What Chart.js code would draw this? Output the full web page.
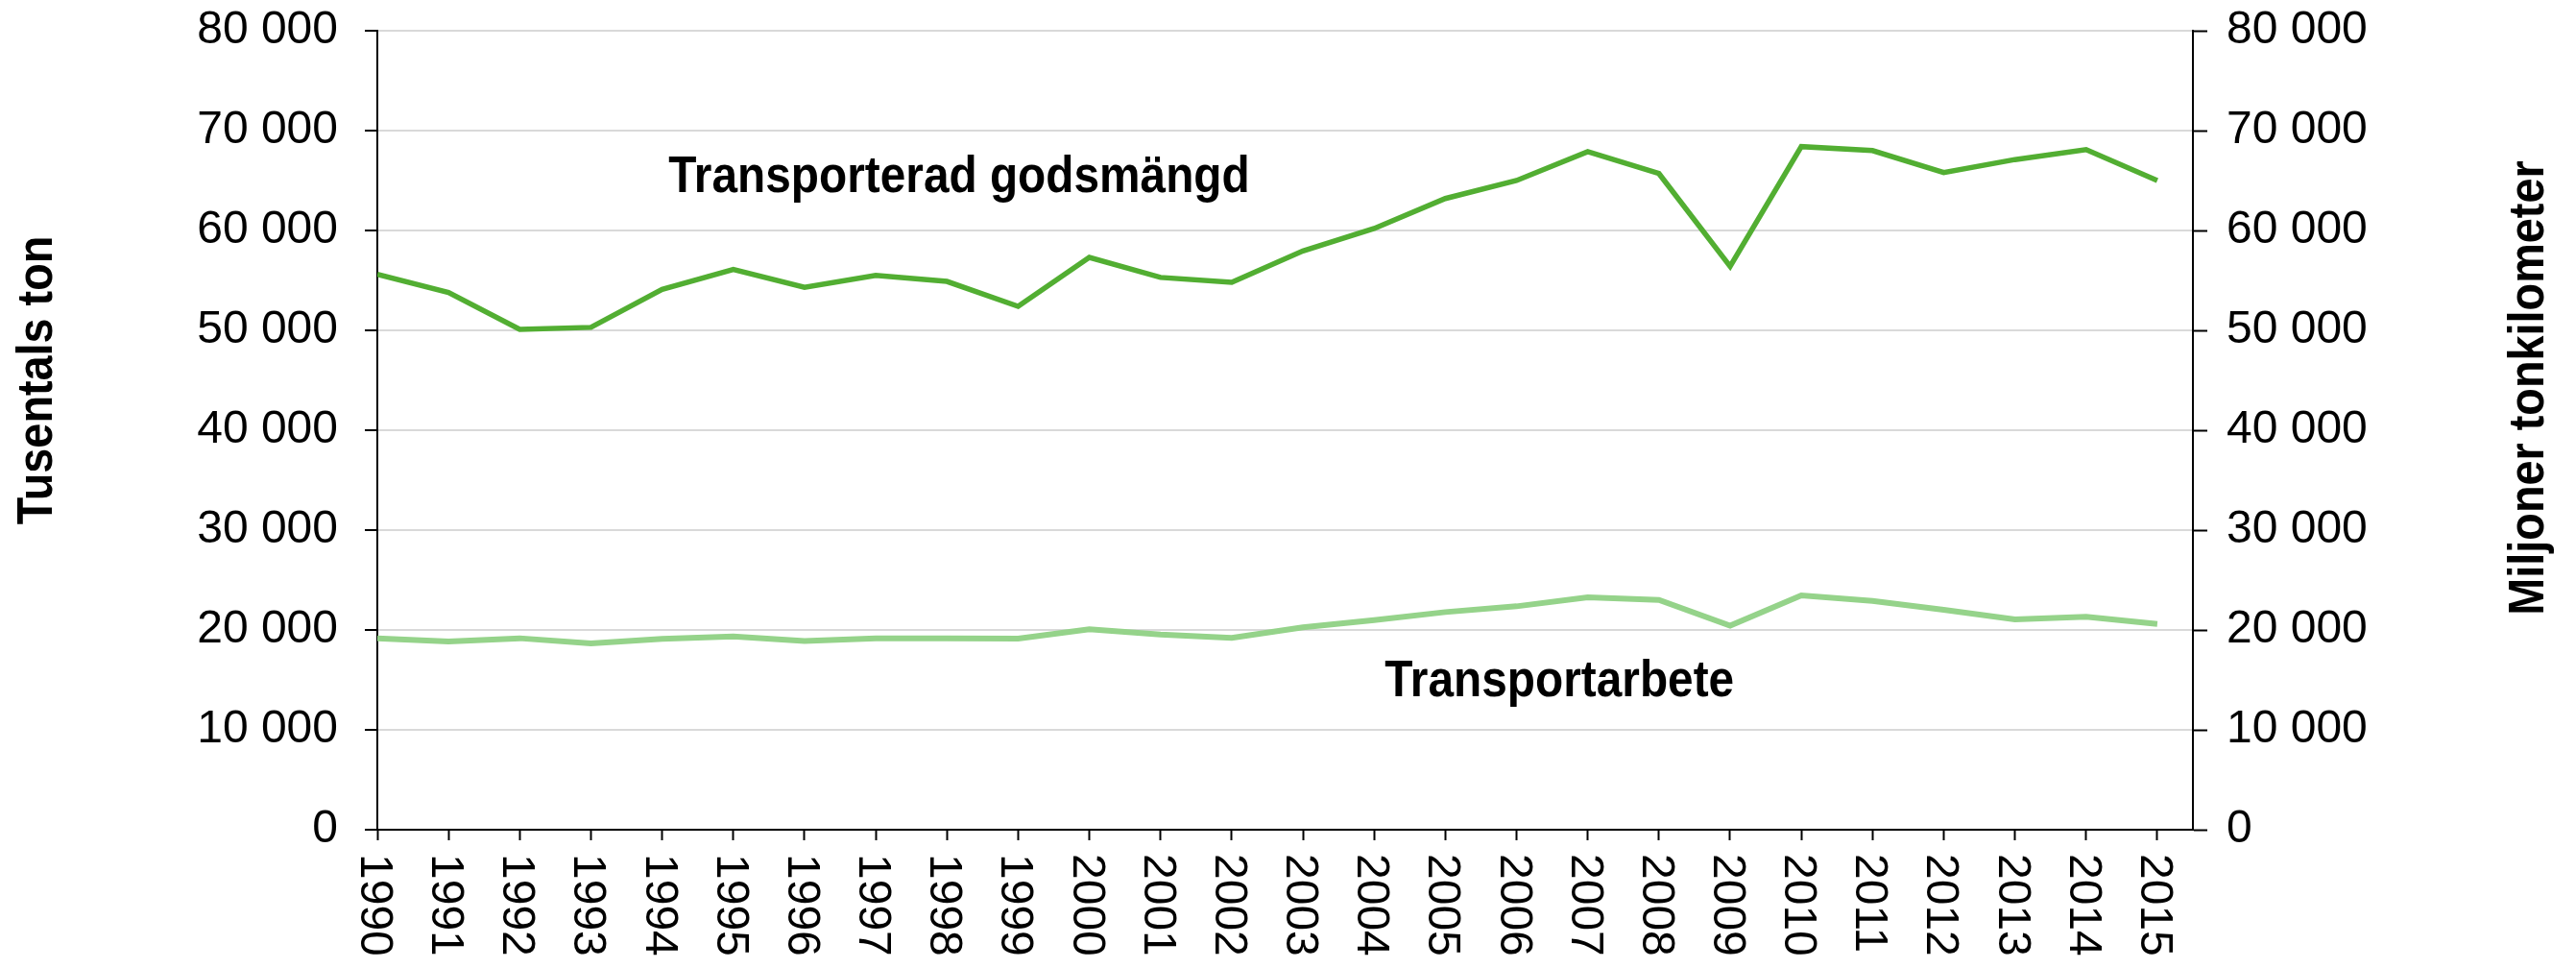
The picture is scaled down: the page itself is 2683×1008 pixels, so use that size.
<!DOCTYPE html>
<html>
<head>
<meta charset="utf-8">
<script src="https://cdn.jsdelivr.net/npm/chart.js@4/dist/chart.umd.min.js"></script>
<style>
    html, body { margin: 0; padding: 0; background: #fff; }
    #wrap { width: 2683px; height: 1008px; }
</style>
</head>
<body>
<div id="wrap"><canvas id="myChart" width="2683" height="1008"></canvas></div>
<script>
const years = [1990, 1991, 1992, 1993, 1994, 1995, 1996, 1997, 1998, 1999,
    2000, 2001, 2002, 2003, 2004, 2005, 2006, 2007, 2008, 2009,
    2010, 2011, 2012, 2013, 2014, 2015];

// Tusentals ton
const godsmangd = [55600, 53800, 50100, 50300, 54100, 56100, 54300, 55500, 54900, 52400,
    57300, 55300, 54800, 57950, 60200, 63200, 65000, 67900, 65700, 56400,
    68400, 68000, 65800, 67100, 68100, 65000];

// Miljoner tonkilometer
const transportarbete = [19150, 18850, 19170, 18650, 19100, 19360, 18900, 19170, 19170, 19140,
    20060, 19550, 19200, 20260, 20990, 21790, 22370, 23260, 23010, 20420,
    23460, 22910, 22020, 21060, 21310, 20610];

const yTicks = [0, 10000, 20000, 30000, 40000, 50000, 60000, 70000, 80000];

const fmt = v => String(v).replace(/\B(?=(\d{3})+(?!\d))/g, ' ');

const tickFont = { family: 'Liberation Sans, Arial, sans-serif', size: 48 };

// Text that Chart.js can't place the way the original does
const textPlugin = {
    id: 'texter',
    afterDraw(chart) {
        const ctx = chart.ctx;
        const x = chart.scales.x;
        const y = chart.scales.y;
        ctx.save();
        ctx.fillStyle = '#000';

        // year labels, rotated clockwise
        ctx.font = '48px Liberation Sans, Arial, sans-serif';
        ctx.textAlign = 'left';
        ctx.textBaseline = 'alphabetic';
        x.ticks.forEach(t => {
            const px = x.getPixelForValue(t.value);
            ctx.save();
            ctx.translate(px - 17, chart.chartArea.bottom + 25);
            ctx.rotate(Math.PI / 2);
            ctx.fillText(String(t.value), 0, 0);
            ctx.restore();
        });

        // series names
        const bold = (txt, px, py, size, k) => {
            ctx.save();
            ctx.font = 'bold ' + size + 'px Liberation Sans, Arial, sans-serif';
            ctx.translate(px, py);
            ctx.scale(k, 1);
            ctx.textAlign = 'left';
            ctx.fillText(txt, 0, 0);
            ctx.restore();
        };
        bold('Transporterad godsmängd', x.getPixelForValue(1994.09), y.getPixelForValue(63800), 54, 0.885);
        bold('Transportarbete', x.getPixelForValue(2004.15), y.getPixelForValue(13350), 54, 0.885);

        // axis titles, reading bottom to top
        const title = (txt, cx, cy) => {
            ctx.save();
            ctx.font = 'bold 52px Liberation Sans, Arial, sans-serif';
            ctx.translate(cx, cy);
            ctx.rotate(-Math.PI / 2);
            ctx.scale(0.9, 1);
            ctx.textAlign = 'center';
            ctx.textBaseline = 'middle';
            ctx.fillText(txt, 0, 0);
            ctx.restore();
        };
        title('Tusentals ton', 40, 396);
        title('Miljoner tonkilometer', 2635, 404);
        ctx.restore();
    }
};

const data = {
    datasets: [{
        label: 'Transporterad godsmängd',
        data: years.map((yr, i) => ({ x: yr, y: godsmangd[i] })),
        borderColor: '#52AE32',
        borderWidth: 5.5,
        pointRadius: 0,
        tension: 0,
        yAxisID: 'y'
    }, {
        label: 'Transportarbete',
        data: years.map((yr, i) => ({ x: yr, y: transportarbete[i] })),
        borderColor: '#95D38A',
        borderWidth: 6,
        pointRadius: 0,
        tension: 0,
        yAxisID: 'y1'
    }]
};

// y axes: fixed width, no extra top/bottom padding from the tick labels
const fitY = w => scale => {
    scale.width = w;
    scale.paddingTop = 0;
    scale.paddingBottom = 0;
};

const config = {
    type: 'line',
    data: data,
    options: {
        responsive: false,
        animation: false,
        layout: { padding: { top: 32, left: 0, right: 0, bottom: 0 } },
        plugins: {
            legend: { display: false },
            tooltip: { enabled: false }
        },
        scales: {
            x: {
                type: 'linear',
                min: years[0],
                max: years[years.length - 1] + 0.5,
                border: { color: '#000', width: 2 },
                grid: {
                    drawOnChartArea: false,
                    drawTicks: true,
                    tickLength: 11,
                    tickColor: '#000',
                    tickWidth: 2
                },
                ticks: {
                    stepSize: 1,
                    includeBounds: false,
                    autoSkip: false,
                    display: false
                },
                afterFit(scale) { scale.height = 144; }
            },
            y: {
                position: 'left',
                min: 0,
                max: 80000,
                border: { color: '#000', width: 2 },
                grid: {
                    color: '#d9d9d9',
                    lineWidth: 2,
                    tickLength: 13,
                    tickColor: '#000',
                    tickWidth: 2
                },
                afterBuildTicks(scale) { scale.ticks = yTicks.map(v => ({ value: v })); },
                ticks: {
                    padding: 28,
                    color: '#000',
                    font: tickFont,
                    callback: v => fmt(v)
                },
                afterFit: fitY(393)
            },
            y1: {
                position: 'right',
                min: 0,
                max: 80000,
                border: { color: '#000', width: 2 },
                grid: {
                    drawOnChartArea: false,
                    tickLength: 15,
                    tickColor: '#000',
                    tickWidth: 2
                },
                afterBuildTicks(scale) { scale.ticks = yTicks.map(v => ({ value: v })); },
                ticks: {
                    padding: 20,
                    color: '#000',
                    font: tickFont,
                    callback: v => fmt(v)
                },
                afterFit: fitY(399)
            }
        }
    },
    plugins: [textPlugin]
};

const myChart = new Chart(document.getElementById('myChart'), config);
</script>
</body>
</html>
